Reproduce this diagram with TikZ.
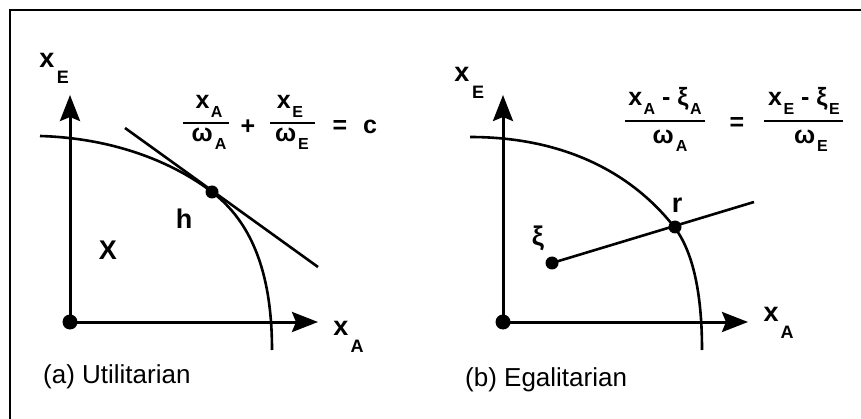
\documentclass[tikz,border=0pt]{standalone}
\usepackage{fontspec}
\setmainfont{Liberation Sans}
\usetikzlibrary{arrows.meta}
\newcommand\sbs[1]{\hspace{1.5pt}\raisebox{-0.36em}{\fontsize{16}{16}\selectfont #1}}
\newcommand\sbd[1]{\hspace{2pt}\raisebox{-0.3em}{\fontsize{16}{16}\selectfont #1}}
\begin{document}
\begin{tikzpicture}[x=1pt,y=-1pt,
  axis/.style={line width=3pt,-{Stealth[length=26pt,width=20pt,inset=4pt]}},
  curve/.style={line width=2.6pt},
  dotc/.style={circle,fill=black,inner sep=0pt,minimum size=#1},
  lab/.style={font=\bfseries\fontsize{27}{27}\selectfont,inner sep=0pt},
  sublab/.style={font=\bfseries\fontsize{18}{18}\selectfont,inner sep=0pt},
  frm/.style={font=\bfseries\fontsize{25}{25}\selectfont,inner sep=0pt},
  frb/.style={frm,anchor=base},
  bar/.style={line width=1.8pt},
  captxt/.style={font=\fontsize{26}{26}\selectfont,inner sep=0pt,anchor=west},
  frame/.style={line width=1.3pt}]
\useasboundingbox (0,0) rectangle (861,419);
\draw[frame] (10,419) -- (10,10) -- (861,10);

% ---------- (a) Utilitarian ----------
\coordinate (oA) at (70,322);
\coordinate (yA) at (70,95);
\coordinate (xA) at (318,322);
\draw[axis] (oA) -- (yA);
\draw[axis] (oA) -- (xA);
\node[dotc=15pt] (o1) at (oA) {};
\draw[curve] (40,136) .. controls (110,138) and (170,160) .. (212,192)
  .. controls (250,221) and (272,270) .. (272,350);
\coordinate (t1) at (125,128);
\coordinate (t2) at (318,267);
\draw[curve] (t1) -- (t2);
\node[dotc=13pt] (h) at (212,192) {};
\node[lab] (hl) at (184,219) {h};
\node[lab] (Xl) at (108,250) {X};
\node[lab] (xE1) at (47,60) {x};
\node[sublab] (xE1s) at (63,77) {E};
\node[lab] (xA1) at (341,328) {x};
\node[sublab] (xA1s) at (357,346) {A};
% formula
\node[frb] (n1) at (209,109) {x\sbs{A}};
\draw[bar] (183,123) -- (229,123);
\node[frb] (d1) at (209,142) {ω\sbd{A}};
\node[frm] (pl) at (248,127) {+};
\node[frb] (n2) at (290,109) {x\sbs{E}};
\draw[bar] (270,123) -- (315,123);
\node[frb] (d2) at (292,142) {ω\sbd{E}};
\node[frm] (eq1) at (340,127) {=};
\node[frm] (c1) at (370,127) {c};
\node[captxt] (capA) at (43,377) {(a) Utilitarian};

% ---------- (b) Egalitarian ----------
\coordinate (oB) at (503,322);
\coordinate (yB) at (503,95);
\coordinate (xB) at (748,322);
\draw[axis] (oB) -- (yB);
\draw[axis] (oB) -- (xB);
\node[dotc=15pt] (o2) at (oB) {};
\draw[curve] (470,137) .. controls (560,137) and (630,170) .. (675,228)
  .. controls (695,255) and (702,300) .. (702,350);
\node[dotc=13pt] (xi) at (552,263) {};
\node[dotc=13pt] (r) at (675,227) {};
\coordinate (lend) at (754,202);
\draw[curve] (xi.center) -- (lend);
\node[lab] (rl) at (677,205) {r};
\node[lab] (xil) at (538,238) {ξ};
\node[lab] (xE2) at (462,74) {x};
\node[sublab] (xE2s) at (478,92) {E};
\node[lab] (xA2) at (771,314) {x};
\node[sublab] (xA2s) at (787,332) {A};
% formula
\node[frb] (n3) at (665,106) {x\sbs{A} - ξ\sbs{A}};
\draw[bar] (625,121) -- (705,121);
\node[frb] (d3) at (670,144) {ω\sbd{A}};
\node[frm] (eq2) at (737,124) {=};
\node[frb] (n4) at (804,106) {x\sbs{E} - ξ\sbs{E}};
\draw[bar] (764,121) -- (843,121);
\node[frb] (d4) at (811,144) {ω\sbd{E}};
\node[captxt] (capB) at (465,380) {(b) Egalitarian};
\end{tikzpicture}
\end{document}
